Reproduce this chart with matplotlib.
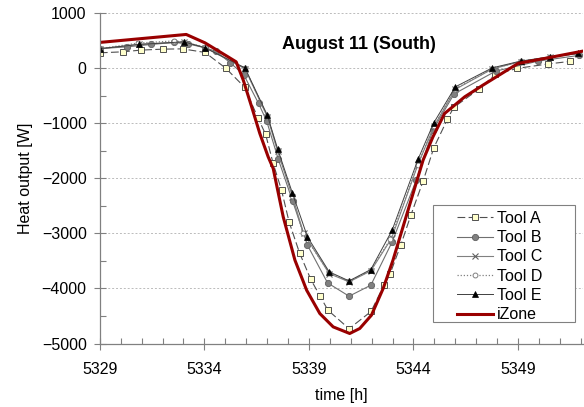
import matplotlib.pyplot as plt
from matplotlib.ticker import MultipleLocator
from matplotlib.patches import Rectangle

plt.rcParams['font.family'] = ['Liberation Sans', 'DejaVu Sans']

x_ticks = [5329, 5334, 5339, 5344, 5349]

# iZone reference (smooth line, no markers)
izone_t = [5329.0, 5333.13, 5334.03, 5335.13, 5335.52, 5335.86, 5336.26, 5336.65,
           5337.05, 5337.29, 5337.77, 5338.33, 5338.89, 5339.52, 5340.16, 5340.95,
           5341.43, 5341.99, 5342.55, 5343.02, 5343.50, 5343.98, 5344.46, 5344.93,
           5345.49, 5345.97, 5346.45, 5347.32, 5349.0, 5350.43, 5352.1]
izone_w = [473, 618, 465, 211, 120, -213, -698, -1182,
           -1607, -1818, -2698, -3485, -4031, -4455, -4698, -4818,
           -4727, -4485, -4000, -3485, -2880, -2273, -1667, -1244,
           -818, -667, -516, -304, 91, 193, 315]

# Tool A
a_t = [5329.0, 5330.09, 5330.95, 5332.03, 5332.96, 5334.03, 5335.02, 5335.92,
       5336.56, 5336.93, 5337.28, 5337.69, 5338.05, 5338.55, 5339.09, 5339.52,
       5339.91, 5340.92, 5341.97, 5342.59, 5342.88, 5343.39, 5343.88, 5344.46,
       5344.97, 5345.62, 5345.92, 5347.15, 5347.92, 5348.97, 5350.45, 5351.51]
a_w = [284, 302, 333, 351, 356, 291, 5, -340,
       -898, -1200, -1716, -2213, -2789, -3353, -3836, -4131,
       -4395, -4731, -4418, -3940, -3735, -3213, -2662, -2049,
       -1444, -927, -709, -371, -107, 2, 82, 129]

# Tool B
b_t = [5329.0, 5330.30, 5331.45, 5332.55, 5333.21, 5334.04, 5334.55, 5335.24,
       5335.88, 5336.59, 5336.98, 5337.53, 5338.22, 5338.93, 5339.89, 5340.92,
       5341.96, 5342.98, 5344.13, 5344.93, 5345.94, 5347.93, 5349.96, 5351.9]
b_w = [360, 393, 436, 473, 447, 375, 311, 102,
       -113, -636, -958, -1645, -2413, -3213, -3898, -4140,
       -3940, -3153, -2031, -1122, -464, -49, 133, 236]

# Tool C
c_t = [5329.0, 5330.87, 5333.02, 5334.03, 5335.94, 5337.01, 5337.50, 5338.21,
       5338.75, 5339.97, 5340.92, 5341.96, 5342.95, 5344.2, 5344.97, 5346.0,
       5347.77, 5349.12, 5350.51, 5351.86]
c_w = [355, 440, 480, 380, -5, -880, -1500, -2330,
       -3000, -3730, -3880, -3680, -3090, -1760, -1060, -380,
       -10, 125, 205, 268]

# Tool D
d_t = [5329.0, 5330.83, 5332.55, 5333.02, 5334.03, 5335.94, 5337.01, 5337.50,
       5338.21, 5338.72, 5339.97, 5340.92, 5341.96, 5342.9, 5344.2, 5344.97,
       5346.0, 5347.77, 5349.12, 5350.51, 5351.86]
d_w = [360, 460, 500, 480, 385, 0, -870, -1490,
       -2320, -3000, -3720, -3870, -3670, -3100, -1750, -1050,
       -370, -5, 128, 207, 270]

# Tool E
e_t = [5329.0, 5330.87, 5333.02, 5334.03, 5335.94, 5337.01, 5337.50, 5338.21,
       5338.93, 5339.97, 5340.92, 5341.96, 5342.98, 5344.22, 5344.97, 5346.0,
       5347.77, 5349.12, 5350.51, 5351.86]
e_w = [360, 436, 484, 375, 11, -849, -1458, -2267,
       -3062, -3698, -3862, -3655, -2940, -1649, -989, -335,
       11, 133, 211, 273]

fig = plt.figure(figsize=(5.84, 4.07), dpi=100)
ax = fig.add_axes([0.171, 0.156, 0.827, 0.811])

ax.plot(a_t, a_w, linestyle=(0, (7, 3)), color='#505050', linewidth=0.8,
        marker='s', markersize=5, markerfacecolor='#FFFFCC',
        markeredgecolor='#505050', markeredgewidth=0.7, label='Tool A')
ax.plot(b_t, b_w, linestyle='-', color='#707070', linewidth=0.8,
        marker='o', markersize=4.5, markerfacecolor='#808080',
        markeredgecolor='#606060', markeredgewidth=0.6, label='Tool B')
ax.plot(c_t, c_w, linestyle='-', color='#808080', linewidth=0.8,
        marker='x', markersize=4, markeredgecolor='#606060',
        markeredgewidth=0.8, label='Tool C')
ax.plot(d_t, d_w, linestyle=(0, (1, 1.5)), color='#808080', linewidth=0.9,
        marker='o', markersize=3.5, markerfacecolor='white',
        markeredgecolor='#808080', markeredgewidth=0.7, label='Tool D')
ax.plot(e_t, e_w, linestyle='-', color='#404040', linewidth=0.7,
        marker='^', markersize=4.5, markerfacecolor='black',
        markeredgecolor='black', markeredgewidth=0.5, label='Tool E')
ax.plot(izone_t, izone_w, linestyle='-', color='#990000', linewidth=2.2,
        label='iZone')

ax.set_xlim(5329, 5352.1)
ax.set_ylim(-5000, 1000)
ax.set_xticks(x_ticks)
ax.set_xticklabels([str(t) for t in x_ticks])
ax.xaxis.set_minor_locator(MultipleLocator(1))
ax.yaxis.set_major_locator(MultipleLocator(1000))
ax.yaxis.set_minor_locator(MultipleLocator(500))

for s in ['top', 'right']:
    ax.spines[s].set_visible(False)
for s in ['left', 'bottom']:
    ax.spines[s].set_color('#808080')
    ax.spines[s].set_linewidth(0.9)

ax.tick_params(which='major', direction='inout', length=9, width=0.8,
               color='#808080', labelsize=11.5)
ax.tick_params(which='minor', direction='in', length=4, width=0.8, color='#808080')
ax.tick_params(axis='x', which='major', pad=9)
ax.tick_params(axis='y', which='major', pad=5)

ax.grid(axis='y', which='major', linestyle=(0, (2, 2)), color='#BBBBBB', linewidth=0.7)
ax.set_axisbelow(True)

ax.set_xlabel('time [h]', fontsize=11.5, labelpad=8)
ax.set_ylabel('Heat output [W]', fontsize=11.5, labelpad=6)

ax.text(0.536, 0.907, 'August 11 (South)', transform=ax.transAxes,
        ha='center', va='center', fontsize=13, fontweight='bold')

# legend box drawn separately, it is wider than its entries
ax.add_patch(Rectangle((0.689, 0.065), 0.294, 0.354, transform=ax.transAxes,
                       facecolor='white', edgecolor='#808080', linewidth=0.8,
                       zorder=4.5))
ax.legend(loc='upper left', bbox_to_anchor=(0.739, 0.402), fontsize=11.5,
          frameon=False, handlelength=2.25, labelspacing=0.27, borderpad=0,
          handletextpad=0.25, borderaxespad=0)

fig.savefig('out.png', dpi=100)
